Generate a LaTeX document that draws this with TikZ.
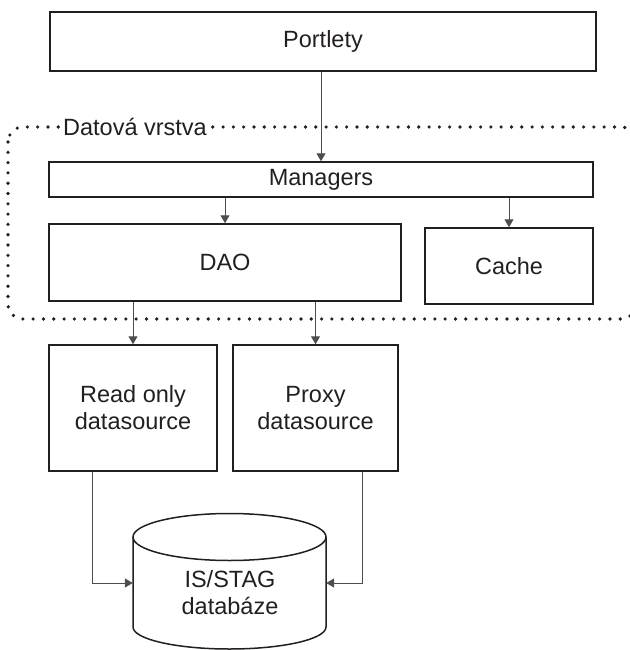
\documentclass[tikz,border=0pt]{standalone}
\usepackage{fontspec}
\setmainfont{Liberation Sans}
\usetikzlibrary{arrows.meta}
\definecolor{ink}{HTML}{231F20}
\definecolor{wire}{HTML}{4D4D4F}
\begin{document}
\begin{tikzpicture}[x=1pt,y=-1pt,
  font=\fontsize{23.5}{27}\selectfont,
  box/.style={draw=ink, line width=1.5pt, rectangle, inner sep=0pt, align=center, text=ink},
  arr/.style={draw=wire, line width=1pt, -{Triangle[width=9pt,length=8pt]}},
  frame/.style={draw=ink, line width=3.6pt, line cap=round, dash pattern=on 0pt off 10.3pt, rounded corners=15pt},
  lbl/.style={text=ink, align=center, inner sep=0pt}]
\useasboundingbox (0,0) rectangle (629,650);
% data layer frame
\draw[frame] (8,127) rectangle (636,319);
\node[lbl, fill=white, inner xsep=2pt, inner ysep=3pt] (layer) at (135,127) {Datová vrstva};
% boxes
\node[box, minimum width=546pt, minimum height=59pt] (portlety) at (323,41.5) {Portlety};
\node[box, minimum width=544pt, minimum height=35pt] (managers) at (321,179.5) {Managers};
\node[box, minimum width=352pt, minimum height=77pt] (dao) at (225,262.5) {DAO};
\node[box, minimum width=168pt, minimum height=76pt] (cache) at (509,266) {Cache};
\node[box, minimum width=168pt, minimum height=126pt] (ro) at (133,408) {Read only\\datasource};
\node[box, minimum width=165pt, minimum height=126pt] (proxy) at (315.5,408) {Proxy\\datasource};
% database cylinder
\node[inner sep=0pt, minimum width=193pt, minimum height=136pt] (db) at (229.5,583) {};
\draw[ink, line width=1.5pt] (229.5,537) ellipse [x radius=96.5, y radius=23.5];
\draw[ink, line width=1.5pt] (133,537) -- (133,627) arc[start angle=180, end angle=0, x radius=96.5, y radius=22] -- (326,537);
\node[lbl] (dbtext) at (230,593) {IS/STAG\\databáze};
% connectors
\draw[arr] (managers.north |- portlety.south) -- (managers.north);
\draw[arr] (dao.north |- managers.south) -- (dao.north);
\draw[arr] (cache.north |- managers.south) -- (cache.north);
\draw[arr] (ro.north |- dao.south) -- (ro.north);
\draw[arr] (proxy.north |- dao.south) -- (proxy.north);
\draw[arr] ([xshift=-41pt]ro.south) |- (db.west);
\draw[arr] ([xshift=46.5pt]proxy.south) |- (db.east);
\end{tikzpicture}
\end{document}
